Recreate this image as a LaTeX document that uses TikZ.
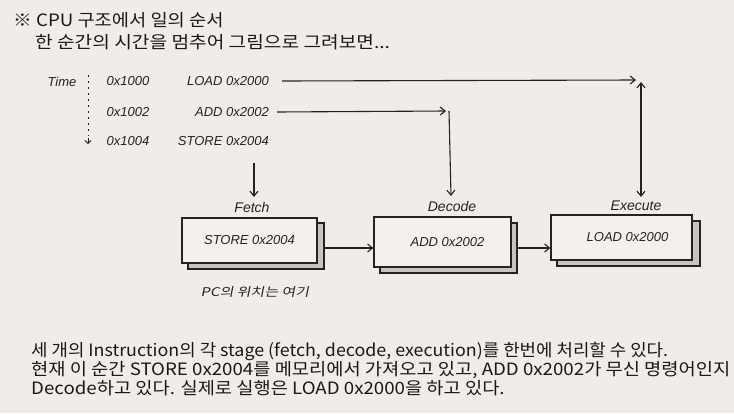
\documentclass[tikz,border=0pt]{standalone}
\usepackage{fontspec}
\setmainfont{Noto Sans CJK KR}[FakeStretch=1.1]
\newfontfamily\hand{Liberation Sans}
\newfontfamily\handkr{Noto Sans CJK KR}[FakeSlant=0.2,FakeStretch=1.25]
\usetikzlibrary{arrows.meta}
\definecolor{bg}{RGB}{240,236,231}
\definecolor{ink}{RGB}{35,35,35}
\definecolor{txt}{RGB}{25,25,25}
\definecolor{frontfill}{RGB}{244,241,237}
\definecolor{backfill}{RGB}{200,197,192}
\tikzset{
  hw/.style={font=\hand\itshape\fontsize{13}{15}\selectfont, text=ink, inner sep=0pt},
  stagelbl/.style={font=\hand\itshape\fontsize{14}{16}\selectfont, text=ink, inner sep=0pt},
  kor/.style={font=\fontsize{17}{19}\selectfont, text=txt, inner sep=0pt, anchor=west},
  frontbox/.style={draw=ink, line width=1.2pt, fill=frontfill, inner sep=0pt, font=\hand\itshape\fontsize{13}{15}\selectfont, text=ink},
  backbox/.style={draw=ink, line width=1.2pt, fill=backfill, inner sep=0pt},
  arr/.style={draw=ink, line width=1.1pt, -{Straight Barb[length=5pt,width=8pt]}},
  darr/.style={draw=ink, line width=1.1pt, {Straight Barb[length=5pt,width=8pt]}-{Straight Barb[length=5pt,width=8pt]}},
}
\begin{document}
\begin{tikzpicture}[x=1pt,y=-1pt]
\fill[bg] (0,0) rectangle (734,413);
\useasboundingbox (0,0) rectangle (734,413);

% title
\node[kor] (t1) at (13,20) {※ CPU 구조에서 일의 순서};
\node[kor, xscale=1.025, transform shape] (t2) at (35,42) {한 순간의 시간을 멈추어 그림으로 그려보면...};

% time axis
\node[hw] (time) at (62,82) {Time};
\coordinate (ttop) at (88,75);
\coordinate (tbot) at (88,144);
\draw[draw=ink, line width=0.7pt, dash pattern=on 2pt off 4pt] (ttop) -- (88,136);
\draw[draw=ink, line width=0.8pt, -{Straight Barb[length=3pt,width=6pt]}] (88,138) -- (tbot);

\node[hw] (a1) at (128,81) {0x1000};
\node[hw] (a2) at (128,112) {0x1002};
\node[hw] (a3) at (128,141) {0x1004};
\node[hw, anchor=east] (load) at (269,81) {LOAD 0x2000};
\node[hw, anchor=east] (add) at (269,112) {ADD 0x2002};
\node[hw, anchor=east] (store) at (269,141) {STORE 0x2004};

% stage labels
\node[stagelbl] (fetchlbl) at (252,207) {Fetch};
\node[stagelbl] (decodelbl) at (452,206) {Decode};
\node[stagelbl] (execlbl) at (636,206) {Execute};

% boxes
\node[backbox, minimum width=136pt, minimum height=46pt] (fetchback) at (256,246) {};
\node[frontbox, minimum width=135pt, minimum height=45pt] (fetch) at (249.5,240.5) {STORE 0x2004};
\node[backbox, minimum width=137pt, minimum height=50pt] (decodeback) at (448.5,248) {};
\node[frontbox, minimum width=137pt, minimum height=50pt] (decode) at (442.5,242) {\hspace{10pt}ADD 0x2002};
\node[backbox, minimum width=143pt, minimum height=45pt] (execback) at (628.5,243.5) {};
\node[frontbox, minimum width=141pt, minimum height=45pt] (exec) at (621.5,237.5) {\hspace{12pt}LOAD 0x2000};

\node[font=\handkr\fontsize{12}{14}\selectfont, text=ink, inner sep=0pt] (pc) at (255,292) {PC의 위치는 여기};

% connectors
\coordinate (loadend) at (636,80);
\coordinate (execup) at (641,82);
\coordinate (execdown) at (641,197);
\draw[arr] ([xshift=13pt]load.east) -- (loadend);
\draw[darr] (execup) -- (execdown);

\coordinate (addend) at (446,111);
\coordinate (addturn) at (449,111);
\coordinate (decdown) at (451,196);
\draw[arr] ([xshift=8pt]add.east) -- (addend);
\draw[arr] (addturn) -- (decdown);

\coordinate (fetchtop) at (254,163);
\coordinate (fetchdown) at (254,197);
\draw[arr] (fetchtop) -- (fetchdown);

\draw[arr] ([yshift=-2pt]fetchback.east) -- ([yshift=-2pt]fetchback.east -| decode.west);
\draw[arr] (decodeback.east) -- (decodeback.east -| exec.west);

% bottom text
\node[kor, xscale=0.955, transform shape] (b1) at (31,352) {세 개의 Instruction의 각 stage (fetch, decode, execution)를 한번에 처리할 수 있다.};
\node[kor] (b2) at (31,370) {현재 이 순간 STORE 0x2004를 메모리에서 가져오고 있고, ADD 0x2002가 무신 명령어인지};
\node[kor] (b3) at (31,388) {Decode하고 있다. 실제로 실행은 LOAD 0x2000을 하고 있다.};
\end{tikzpicture}
\end{document}
